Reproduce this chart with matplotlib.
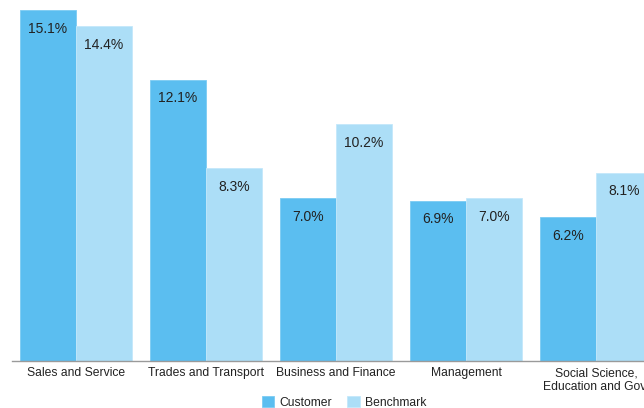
import matplotlib
matplotlib.use("Agg")
import matplotlib.pyplot as plt
import numpy as np

categories = ["Sales and Service", "Trades and Transport", "Business and Finance",
              "Management", "Social Science,\nEducation and Govt"]
customer = [15.1, 12.1, 7.0, 6.9, 6.2]
benchmark = [14.4, 8.3, 10.2, 7.0, 8.1]
series_names = ["Customer", "Benchmark"]

plt.rcParams["font.family"] = ["Liberation Sans", "DejaVu Sans"]

CUST_COLOR = "#5bbef0"
BENCH_COLOR = "#acdef7"
TEXT_COLOR = "#222222"

W, H = 644, 408
fig = plt.figure(figsize=(W / 100, H / 100), dpi=100)
# axes span from the left baseline start to the right edge (last group is cut off)
ax = fig.add_axes([12 / W, (H - 361) / H, (W - 12) / W, 361 / H])

x = np.arange(len(categories))
width = 56 / 130

bars_c = ax.bar(x - width / 2, customer, width, color=CUST_COLOR,
                edgecolor="#7ccbf3", linewidth=0.6, label=series_names[0])
bars_b = ax.bar(x + width / 2, benchmark, width, color=BENCH_COLOR,
                edgecolor="#c4e8fa", linewidth=0.6, label=series_names[1])

for bars, vals in ((bars_c, customer), (bars_b, benchmark)):
    for b, v in zip(bars, vals):
        ax.annotate(f"{v:.1f}%", (b.get_x() + b.get_width() / 2, v),
                    xytext=(0, -13.5), textcoords="offset points",
                    ha="center", va="center", fontsize=10, color=TEXT_COLOR)

ax.set_xlim(-64 / 130, -64 / 130 + (W - 12) / 130)
ax.set_ylim(0, 361 / 23.25)

ax.set_xticks(x)
ax.set_xticklabels(categories, fontsize=8.7, color=TEXT_COLOR, linespacing=1.15)
ax.tick_params(axis="x", length=0, pad=4.5)
ax.set_yticks([])
for side in ("left", "right", "top"):
    ax.spines[side].set_visible(False)
ax.spines["bottom"].set_color("#9a9a9a")
ax.spines["bottom"].set_linewidth(1.0)

fig.legend(loc="center", bbox_to_anchor=(344 / W, 1 - 402.5 / H), ncol=2,
           frameon=False, fontsize=8.7, handlelength=1.0, handleheight=1.0,
           handletextpad=0.45, columnspacing=1.3, labelcolor=TEXT_COLOR)

fig.savefig("out.png", dpi=100)
